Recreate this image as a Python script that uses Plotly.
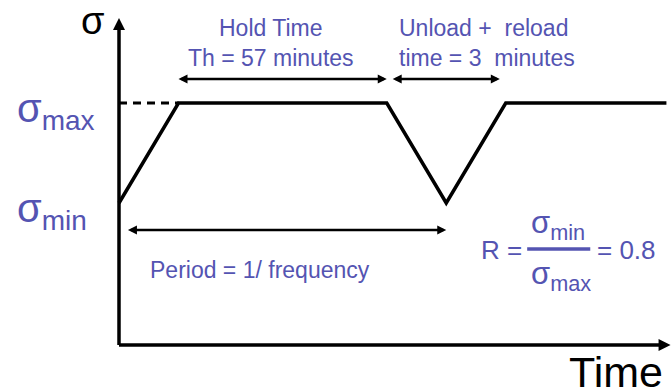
import plotly.graph_objects as go

# ---- data ----
time = [0, 1, 4.5, 5.5, 6.5, 9.2]          # arbitrary time units
stress = [0.8, 1.0, 1.0, 0.8, 1.0, 1.0]    # normalised stress
sigma_min = 0.8
sigma_max = 1.0
hold_span = [1, 4.5]
unload_span = [4.6, 6.4]
period_span = [0.15, 5.5]
axis_x_end = 9.27
axis_y_bottom = 0.516
axis_y_top = 1.17

BLUE = "#5454b2"
FONT = "Liberation Sans, Arial, sans-serif"

fig = go.Figure()

def line(xs, ys, w, dash="solid", color="black"):
    fig.add_trace(go.Scatter(x=xs, y=ys, mode="lines", hoverinfo="skip",
                             line=dict(color=color, width=w, dash=dash)))

def heads(xs, ys, symbols, size):
    fig.add_trace(go.Scatter(x=xs, y=ys, mode="markers", hoverinfo="skip",
                             marker=dict(symbol=symbols, size=size, color="black",
                                         line=dict(width=0))))

# axes
line([0, 0], [axis_y_bottom, axis_y_top - 0.01], 3.5)
line([0, axis_x_end - 0.1], [axis_y_bottom, axis_y_bottom], 3.5)
heads([0, axis_x_end], [axis_y_top, axis_y_bottom], ["arrow-up", "arrow-right"], 12)

# dashed sigma_max reference and waveform
line([0, time[1]], [sigma_max, sigma_max], 3, dash="8px,6px")
line(time, stress, 3.5)

# span arrows
lvl_top = 1.048
lvl_per = 0.746
for (a, b), lvl in [(hold_span, lvl_top), (unload_span, lvl_top), (period_span, lvl_per)]:
    line([a + 0.05, b - 0.05], [lvl, lvl], 2.5)
    heads([a, b], [lvl, lvl], ["arrow-left", "arrow-right"], 9)

ann = []
def text(x, y, s, size, color=BLUE, xanchor="center", yanchor="middle", align="center"):
    ann.append(dict(x=x, y=y, xref="x", yref="y", text=s, showarrow=False,
                    font=dict(family=FONT, size=size, color=color),
                    xanchor=xanchor, yanchor=yanchor, align=align))

text(-0.44, 1.165, "σ", 38, color="black")
text(-1.75, 0.985, "σ<sub>max</sub>", 40, xanchor="left")
text(-1.75, 0.785, "σ<sub>min</sub>", 40, xanchor="left")
text(2.55, 1.12, "Hold Time<br>Th = 57 minutes", 23)
text(4.67, 1.12, "Unload +  reload<br>time = 3  minutes", 23, xanchor="left", align="left")
text(0.49, 0.666, "Period = 1/ frequency", 23, xanchor="left")
text(6.8, 0.706, "R =", 26, xanchor="right")
text(7.38, 0.757, "σ<sub>min</sub>", 31)
text(7.42, 0.655, "σ<sub>max</sub>", 31)
text(8.0, 0.706, "= 0.8", 26, xanchor="left")
text(9.17, 0.462, "Time", 43, color="black", xanchor="right")

fig.add_shape(type="line", x0=6.86, x1=7.92, y0=0.708, y1=0.708, xref="x", yref="y",
              line=dict(color=BLUE, width=3.5))

fig.update_layout(
    width=671, height=391, margin=dict(l=0, r=0, t=0, b=0),
    paper_bgcolor="white", plot_bgcolor="white", showlegend=False,
    annotations=ann,
    xaxis=dict(range=[-2.0, 9.277], visible=False, fixedrange=True),
    yaxis=dict(range=[0.424, 1.206], visible=False, fixedrange=True),
)
fig.write_html("out.html", config={"displayModeBar": False},
               post_script="document.body.style.margin='0px';document.body.style.overflow='hidden';")
